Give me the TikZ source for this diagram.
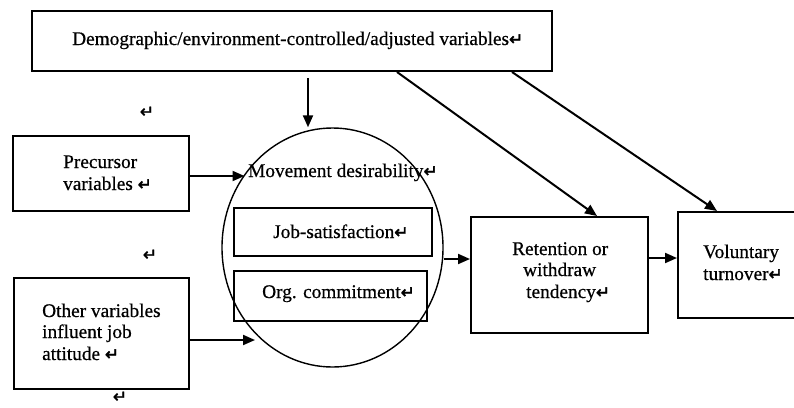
\documentclass[tikz,border=0pt]{standalone}
\usepackage{fontspec}
\setmainfont{Liberation Serif}[FakeBold=0.6]
\newfontfamily\dejavu{DejaVu Sans}[FakeBold=2]
\usetikzlibrary{shapes.geometric,arrows.meta}
\newcommand{\pmark}{{\dejavu\fontsize{17}{17}\selectfont ↵}}
\tikzset{
  box/.style={draw, line width=2pt, rectangle, inner sep=0pt, anchor=north west},
  txt/.style={anchor=base west, inner sep=0pt, font=\fontsize{19.3}{21.5}\selectfont},
  pm/.style={inner sep=0pt},
  arr/.style={line width=2pt, -{Triangle[length=12pt,width=10pt]}},
}
\begin{document}
\begin{tikzpicture}[x=1pt,y=-1pt]
\clip (0,0) rectangle (794,407);
\fill[white] (0,0) rectangle (794,407);
% boxes
\node[box, minimum width=520pt, minimum height=60pt] (demo) at (31,10) {};
\node[box, minimum width=176pt, minimum height=75pt] (prec) at (12,135) {};
\node[box, minimum width=175pt, minimum height=111pt] (other) at (13,277) {};
\node[draw, line width=1.4pt, ellipse, inner sep=0pt, minimum width=221pt, minimum height=239pt] (circ) at (332.5,247.5) {};
\node[box, minimum width=198pt, minimum height=48pt] (job) at (233,207) {};
\node[box, minimum width=193pt, minimum height=50pt] (org) at (233,270) {};
\node[box, minimum width=177pt, minimum height=116pt] (ret) at (470,216) {};
\node[box, minimum width=123pt, minimum height=106pt] (vol) at (677,211) {};
% texts
\node[txt] (tdemo) at (72,45) {Demographic/environment-controlled/adjusted variables\pmark};
\node[txt] (tprec1) at (63,168) {Precursor};
\node[txt] (tprec2) at (63,190) {variables \pmark};
\node[txt] (toth1) at (42,317) {Other variables};
\node[txt] (toth2) at (42,338) {influent job};
\node[txt] (toth3) at (42,360) {attitude \pmark};
\node[txt] (tmov) at (248,177) {Movement desirability\pmark};
\node[txt] (tjob) at (273,238) {Job-satisfaction\pmark};
\node[txt] (torg) at (262,298) {Org. commitment\pmark};
\node[txt] (tret1) at (512,255) {Retention or};
\node[txt] (tret2) at (523,276) {withdraw};
\node[txt] (tret3) at (526,298) {tendency\pmark};
\node[txt] (tvol1) at (703,258) {Voluntary};
\node[txt] (tvol2) at (703,280) {turnover\pmark};
% stray paragraph marks
\node[pm] (p1) at (147,112) {\pmark};
\node[pm] (p2) at (150,255) {\pmark};
\node[pm] (p3) at (120,397) {\pmark};
% connectors
\coordinate (cx) at (308,0);
\draw[arr] ([yshift=-6pt]demo.south -| cx) -- (circ.north -| cx);
\draw[arr] ([yshift=-2.5pt]prec.east) -- ([xshift=-88pt,yshift=-2.5pt]prec.east -| circ);
\draw[arr] ([yshift=-6.5pt]other.east) -- ([xshift=65pt,yshift=-6.5pt]other.east);
\draw[arr] ([yshift=16pt]ret.west -| circ.east) -- ([yshift=16pt]ret.west);
\draw[arr] ([yshift=17pt]ret.east) -- ([yshift=17pt]ret.east -| vol.west);
\draw[arr] ([xshift=366pt]demo.south west) -- ([xshift=127pt]ret.north west);
\draw[arr] ([xshift=481pt]demo.south west) -- ([xshift=40pt]vol.north west);
\end{tikzpicture}
\end{document}
